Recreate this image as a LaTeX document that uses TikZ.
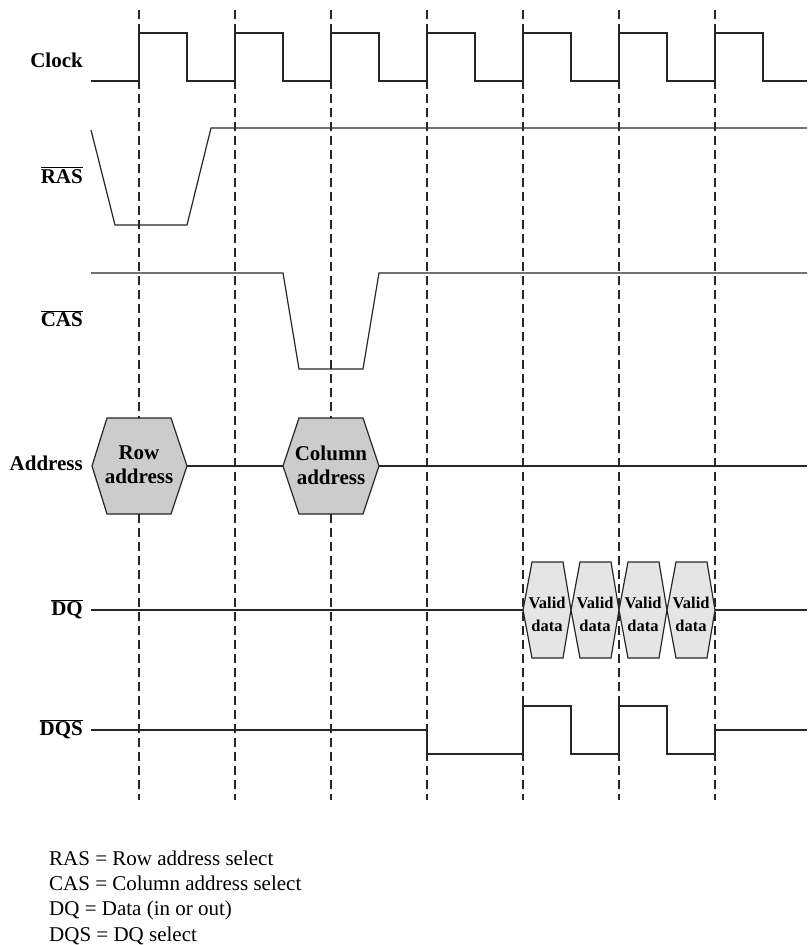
\documentclass[tikz,border=0pt]{standalone}
\usepackage{fontspec}
\setmainfont{Liberation Serif}
\begin{document}
\begin{tikzpicture}[x=1pt,y=-1pt,
  sig/.style={line width=1.2pt, line join=miter, black!85},
  vgrid/.style={line width=1.1pt, dash pattern=on 9pt off 5pt, black!85},
  lbl/.style={anchor=base east, inner sep=0pt, font=\fontsize{21}{25}\selectfont\bfseries},
  hexA/.style={fill=black!20, draw=black!85, line width=1.2pt},
  hexB/.style={fill=black!10, draw=black!85, line width=1.2pt},
  htxt/.style={align=center, inner sep=0pt, font=\fontsize{21}{24}\selectfont\bfseries},
  vtxt/.style={align=center, inner sep=0pt, font=\fontsize{16.5}{23}\selectfont\bfseries},
  leg/.style={anchor=base west, inner sep=0pt, font=\fontsize{21}{25}\selectfont}]
\useasboundingbox (0,0) rectangle (807,945);

% dashed clock edges
\foreach \x in {139,235,331,427,523,619,715}
  \draw[vgrid] (\x,10) -- (\x,800);

% labels
\node[lbl] (lclk) at (83,67) {Clock};
\node[lbl] (lras) at (83,183) {$\overline{\mbox{RAS}}$};
\node[lbl] (lcas) at (83,326) {$\overline{\mbox{CAS}}$};
\node[lbl] (ladr) at (83,470) {Address};
\node[lbl] (ldq)  at (83,615) {$\overline{\mbox{DQ}}$};
\node[lbl] (ldqs) at (83,735) {$\overline{\mbox{DQS}}$};

% clock
\draw[sig] (91,81) -- (139,81) -- (139,33) -- (187,33) -- (187,81)
  -- (235,81) -- (235,33) -- (283,33) -- (283,81)
  -- (331,81) -- (331,33) -- (379,33) -- (379,81)
  -- (427,81) -- (427,33) -- (475,33) -- (475,81)
  -- (523,81) -- (523,33) -- (571,33) -- (571,81)
  -- (619,81) -- (619,33) -- (667,33) -- (667,81)
  -- (715,81) -- (715,33) -- (763,33) -- (763,81) -- (807,81);

% RAS
\draw[sig] (91,130) -- (115,225) -- (187,225) -- (211,128) -- (807,128);

% CAS
\draw[sig] (91,273) -- (283,273) -- (299,369) -- (363,369) -- (379,273) -- (807,273);

% Address
\draw[sig] (187,466) -- (283,466);
\draw[sig] (379,466) -- (807,466);
\draw[hexA] (92,466) -- (107,418) -- (171,418) -- (187,466) -- (171,514) -- (107,514) -- cycle;
\draw[hexA] (283,466) -- (299,418) -- (363,418) -- (379,466) -- (363,514) -- (299,514) -- cycle;
\node[htxt] (row) at (139,465) {Row\\address};
\node[htxt] (col) at (331,465) {Column\\address};

% DQ
\draw[sig] (91,610) -- (523,610);
\draw[sig] (715,610) -- (807,610);
\foreach \x/\n in {523/1,571/2,619/3,667/4}{
  \draw[hexB] (\x,610) -- (\x+9,562) -- (\x+40,562) -- (\x+48,610) -- (\x+40,658) -- (\x+9,658) -- cycle;
  \node[vtxt] (vd\n) at (\x+24,614) {Valid\\data};
}

% DQS
\draw[sig] (91,730) -- (427,730) -- (427,754) -- (523,754) -- (523,706) -- (571,706)
  -- (571,754) -- (619,754) -- (619,706) -- (667,706) -- (667,754) -- (715,754)
  -- (715,730) -- (807,730);

% legend
\node[leg] (g1) at (49,865) {RAS = Row address select};
\node[leg] (g2) at (49,890) {CAS = Column address select};
\node[leg] (g3) at (49,915) {DQ = Data (in or out)};
\node[leg] (g4) at (49,941) {DQS = DQ select};
\end{tikzpicture}
\end{document}
